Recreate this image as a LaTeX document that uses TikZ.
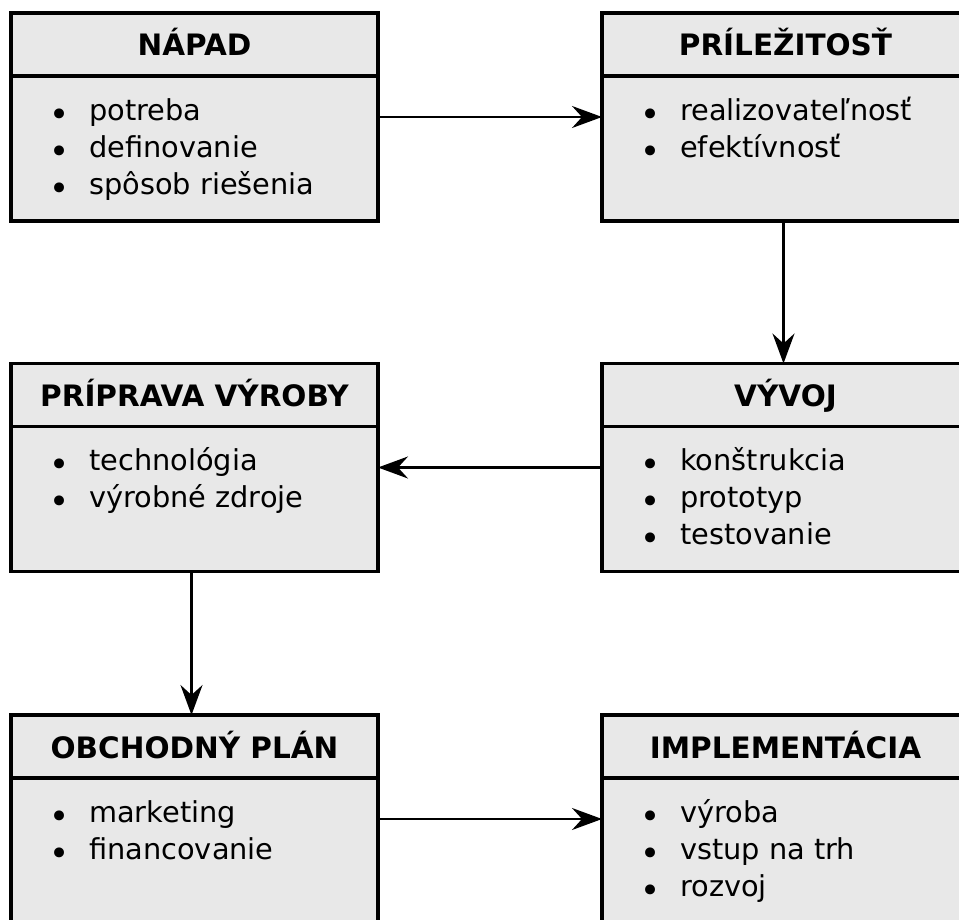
\documentclass[tikz,border=0pt]{standalone}
\usepackage{fontspec}
\setmainfont{DejaVu Sans}
\usetikzlibrary{arrows.meta, positioning}
\definecolor{boxgray}{RGB}{232,232,232}
\newcommand{\pol}{\makebox[38pt][l]{\hspace{-2pt}\raisebox{-6pt}{\fontsize{34}{34}\selectfont •}}}

\begin{document}
\begin{tikzpicture}[x=1pt,y=-1pt,
    hlava/.style={draw, line width=3.5pt, fill=boxgray, outer sep=0pt, minimum width=367pt, minimum height=63pt, text height=23pt, text depth=0pt, font=\fontsize{29.5}{34}\selectfont\bfseries},
    telo/.style={draw, line width=3.5pt, fill=boxgray, outer sep=0pt, minimum width=367pt, minimum height=145pt},
    zoznam/.style={anchor=north west, inner sep=0pt, align=left, font=\fontsize{28.8}{37}\selectfont},
    sipka/.style={-{Stealth[length=30pt,width=22pt,inset=10pt]}, line width=2.2pt}]
\useasboundingbox (0,0) rectangle (959,920);
% prvy riadok
\node[hlava] (napad) at (194.5,44.5) {NÁPAD};
\node[telo, below=0pt of napad] (napadT) {};
\node[zoznam] (napadZ) at ([shift={(40pt,-18pt)}]napadT.north west) {\strut\pol potreba\\\pol definovanie\\\pol spôsob riešenia};
\node[hlava] (pril) at (785.5,44.5) {PRÍLEŽITOSŤ};
\node[telo, below=0pt of pril] (prilT) {};
\node[zoznam] (prilZ) at ([shift={(40pt,-18pt)}]prilT.north west) {\strut\pol realizovateľnosť\\\pol efektívnosť};
% druhy riadok
\node[hlava] (priprava) at (194.5,395) {PRÍPRAVA VÝROBY};
\node[telo, below=0pt of priprava] (pripravaT) {};
\node[zoznam] (pripravaZ) at ([shift={(40pt,-18pt)}]pripravaT.north west) {\strut\pol technológia\\\pol výrobné zdroje};
\node[hlava] (vyvoj) at (785.5,395) {VÝVOJ};
\node[telo, below=0pt of vyvoj] (vyvojT) {};
\node[zoznam] (vyvojZ) at ([shift={(40pt,-18pt)}]vyvojT.north west) {\strut\pol konštrukcia\\\pol prototyp\\\pol testovanie};
% treti riadok
\node[hlava] (plan) at (194.5,746.5) {OBCHODNÝ PLÁN};
\node[telo, below=0pt of plan] (planT) {};
\node[zoznam] (planZ) at ([shift={(40pt,-18pt)}]planT.north west) {\strut\pol marketing\\\pol financovanie};
\node[hlava] (impl) at (785.5,746.5) {IMPLEMENTÁCIA};
\node[telo, below=0pt of impl] (implT) {};
\node[zoznam] (implZ) at ([shift={(40pt,-18pt)}]implT.north west) {\strut\pol výroba\\\pol vstup na trh\\\pol rozvoj};
% sipky
\draw[sipka] ([yshift=-41pt]napadT.north east) -- ([yshift=-41pt]prilT.north west);
\draw[sipka] ([xshift=-2pt]prilT.south) -- ([xshift=-2pt]vyvoj.north);
\draw[sipka] ([yshift=-41pt]vyvojT.north west) -- ([yshift=-41pt]pripravaT.north east);
\draw[sipka] ([xshift=-3pt]pripravaT.south) -- ([xshift=-3pt]plan.north);
\draw[sipka] ([yshift=-41pt]planT.north east) -- ([yshift=-41pt]implT.north west);
\end{tikzpicture}
\end{document}
